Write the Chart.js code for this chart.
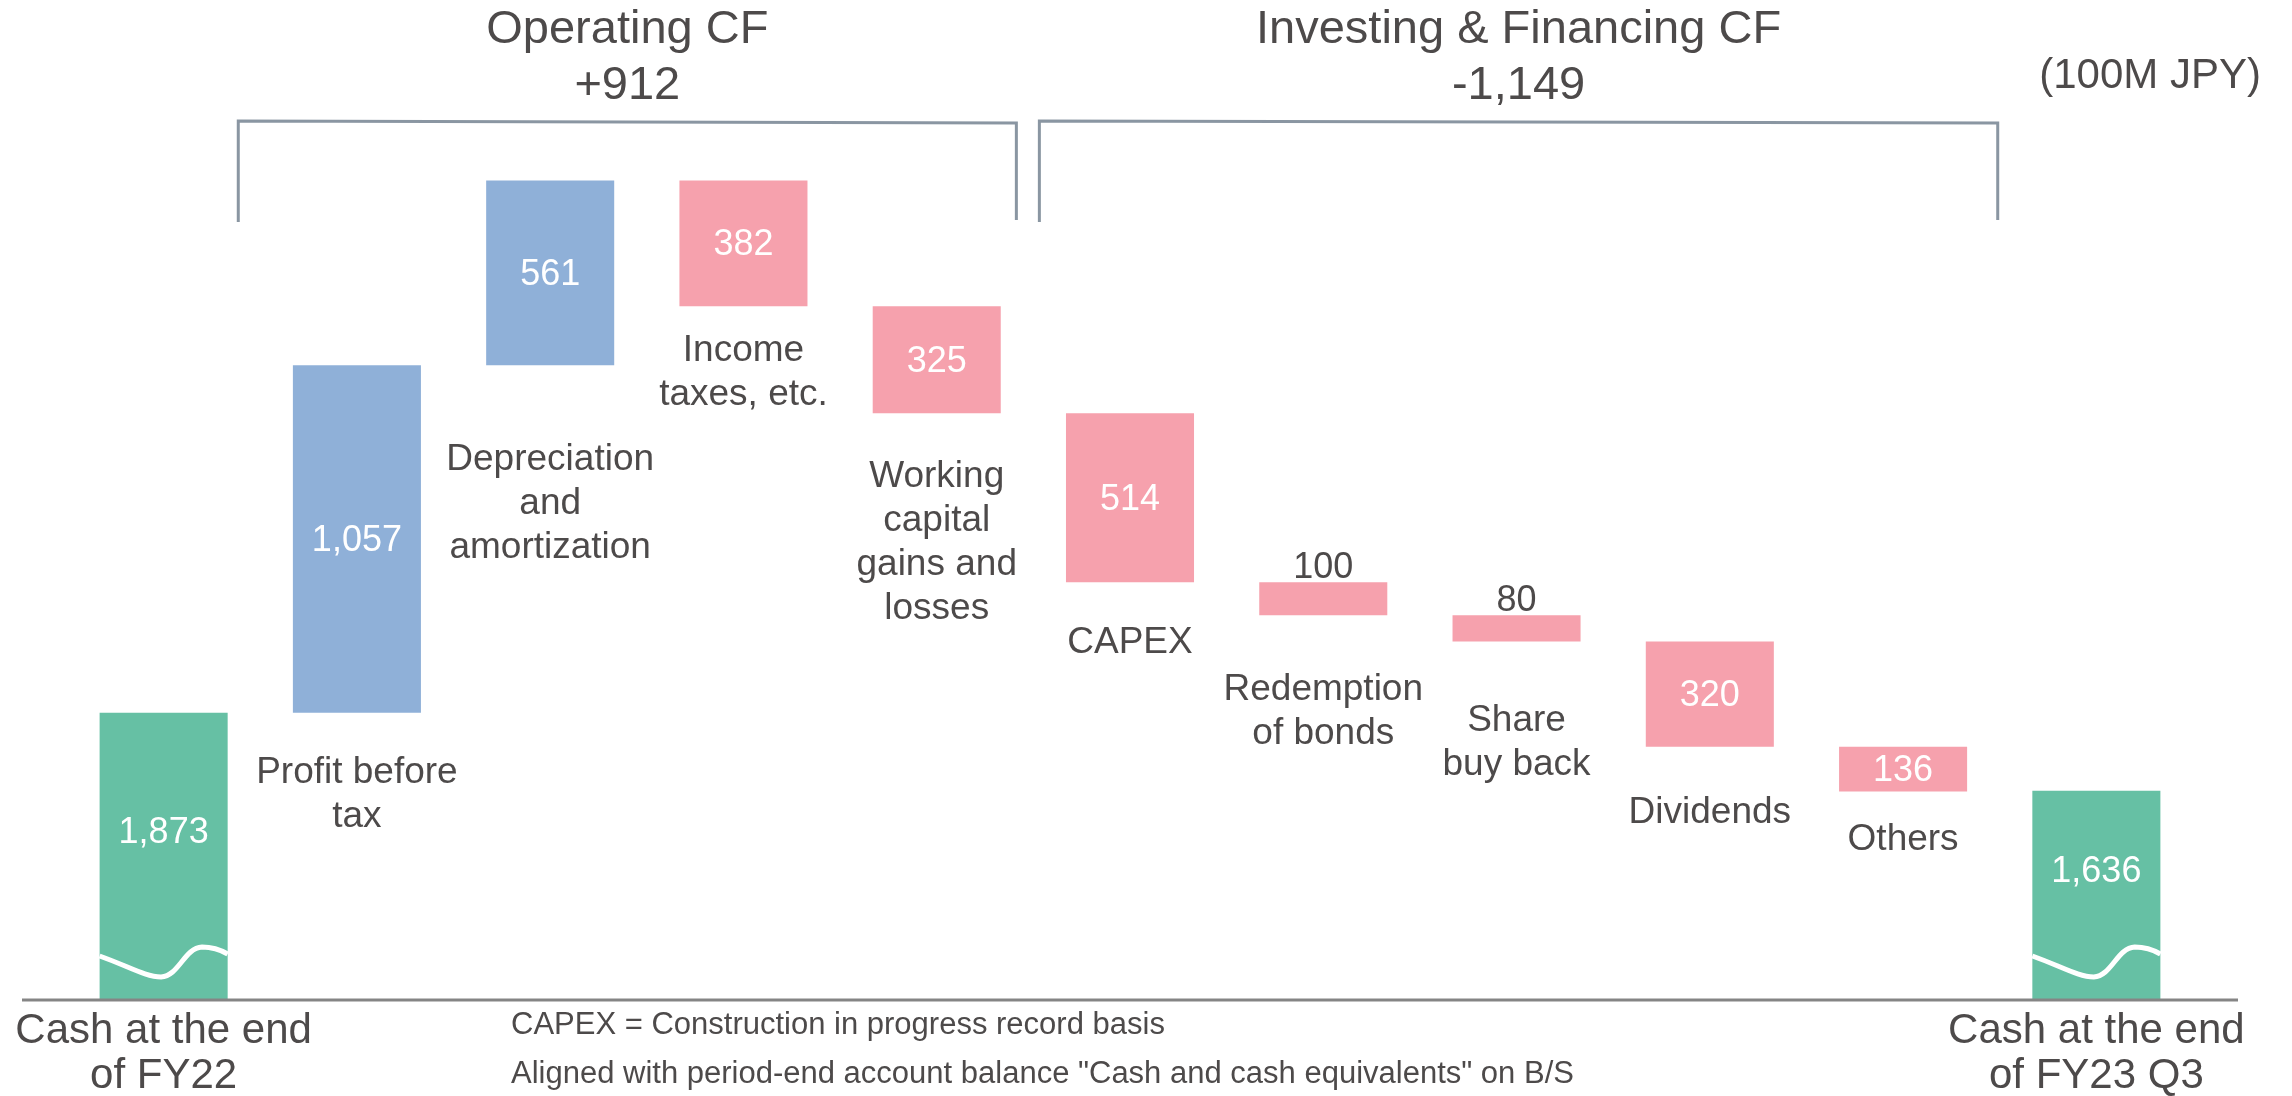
<!DOCTYPE html>
<html>
<head>
<meta charset="utf-8">
<script src="https://cdn.jsdelivr.net/npm/chart.js@4/dist/chart.umd.min.js"></script>
<style>
  html, body { margin: 0; padding: 0; background: #ffffff; }
  #wrap { width: 2292px; height: 1096px; position: relative; }
</style>
</head>
<body>
<div id="wrap"><canvas id="cf-chart" width="2292" height="1096"></canvas></div>
<script>
// 100M JPY
const categories = [
  ["Cash at the end", "of FY22"],
  ["Profit before", "tax"],
  ["Depreciation", "and", "amortization"],
  ["Income", "taxes, etc."],
  ["Working", "capital", "gains and", "losses"],
  ["CAPEX"],
  ["Redemption", "of bonds"],
  ["Share", "buy back"],
  ["Dividends"],
  ["Others"],
  ["Cash at the end", "of FY23 Q3"],
];
const openingCash = 1873;
const closingCash = 1636;
const changes = [1057, 561, -382, -325, -514, -100, -80, -320, -136];

const groupTitles = ["Operating CF", "Investing & Financing CF"];
const groupTotals = [912, -1149];
const groupRanges = [[1, 4], [5, 9]]; // category index from / to
const unitLabel = "(100M JPY)";
const footnotes = [
  "CAPEX = Construction in progress record basis",
  'Aligned with period-end account balance "Cash and cash equivalents" on B/S',
];

// layout / style
const GREEN = "#66c0a4";
const BLUE = "#8fb0d8";
const PINK = "#f6a1ad";
const TEXT = "#4d4a4a";
const BRACKET = "#8a96a2";
const FONT = '"Liberation Sans", Arial, sans-serif';
const labelGaps = [0, 70, 105, 55, 74, 71, 85, 90, 76, 59, 0];

const fmt = (v) => Math.abs(v).toLocaleString("en-US");

// build floating bars
const barData = [openingCash];
const barColors = [GREEN];
const barValues = [openingCash];
let running = openingCash;
changes.forEach((c) => {
  const next = running + c;
  barData.push([Math.min(running, next), Math.max(running, next)]);
  barColors.push(c >= 0 ? BLUE : PINK);
  barValues.push(c);
  running = next;
});
barData.push(closingCash);
barColors.push(GREEN);
barValues.push(closingCash);

const isTotal = (i) => i === 0 || i === categories.length - 1;

// wave break + labels + brackets
const decorPlugin = {
  id: "decor",
  afterDatasetsDraw(chart) {
    const { ctx, chartArea } = chart;
    const x = chart.scales.x;
    const meta = chart.getDatasetMeta(0);
    const base = chartArea.bottom;
    const step = x.getPixelForValue(1) - x.getPixelForValue(0);

    ctx.save();

    // axis line
    ctx.strokeStyle = "#858585";
    ctx.lineWidth = 3;
    ctx.beginPath();
    ctx.moveTo(chartArea.left - 45, base);
    ctx.lineTo(chartArea.right + 45, base);
    ctx.stroke();

    meta.data.forEach((bar, i) => {
      const w = bar.width;
      const L = bar.x - w / 2;
      const top = Math.min(bar.y, bar.base);
      const bottom = Math.max(bar.y, bar.base);

      if (isTotal(i)) {
        // break mark
        ctx.strokeStyle = "#ffffff";
        ctx.lineWidth = 5;
        ctx.beginPath();
        ctx.moveTo(L, base - 44);
        ctx.bezierCurveTo(L + w * 0.22, base - 34, L + w * 0.36, base - 23, L + w * 0.48, base - 23);
        ctx.bezierCurveTo(L + w * 0.62, base - 24, L + w * 0.66, base - 52, L + w * 0.8, base - 53);
        ctx.bezierCurveTo(L + w * 0.9, base - 53, L + w * 0.96, base - 49, L + w, base - 46);
        ctx.stroke();

        ctx.fillStyle = "#ffffff";
        ctx.font = "36px " + FONT;
        ctx.textAlign = "center";
        ctx.textBaseline = "middle";
        ctx.fillText(fmt(barValues[i]), bar.x, (top + base - 46) / 2);

        ctx.fillStyle = TEXT;
        ctx.font = "42px " + FONT;
        ctx.textBaseline = "alphabetic";
        categories[i].forEach((line, k) => {
          ctx.fillText(line, bar.x, base + 43 + k * 45);
        });
        return;
      }

      ctx.textAlign = "center";
      ctx.font = "36px " + FONT;
      if (bottom - top > 40) {
        ctx.fillStyle = "#ffffff";
        ctx.textBaseline = "middle";
        ctx.fillText(fmt(barValues[i]), bar.x, (top + bottom) / 2 + 2);
      } else {
        ctx.fillStyle = TEXT;
        ctx.textBaseline = "alphabetic";
        ctx.fillText(fmt(barValues[i]), bar.x, top - 4);
      }

      ctx.fillStyle = TEXT;
      ctx.font = "37px " + FONT;
      ctx.textBaseline = "alphabetic";
      categories[i].forEach((line, k) => {
        ctx.fillText(line, bar.x, bottom + labelGaps[i] + k * 44);
      });
    });

    // brackets and group titles
    const insets = [[-22, -17], [6, -2]];
    groupRanges.forEach(([a, b], g) => {
      const left = x.getPixelForValue(a) - step / 2 + insets[g][0];
      const right = x.getPixelForValue(b) + step / 2 + insets[g][1];
      ctx.strokeStyle = BRACKET;
      ctx.lineWidth = 3;
      ctx.beginPath();
      ctx.moveTo(left, 222);
      ctx.lineTo(left, 121);
      ctx.lineTo(right, 123);
      ctx.lineTo(right, 220);
      ctx.stroke();

      const cx = (left + right) / 2;
      ctx.fillStyle = TEXT;
      ctx.font = "47px " + FONT;
      ctx.textAlign = "center";
      ctx.textBaseline = "alphabetic";
      ctx.fillText(groupTitles[g], cx, 43);
      const t = groupTotals[g];
      ctx.fillText((t > 0 ? "+" : "-") + fmt(t), cx, 99);
    });

    // unit
    ctx.font = "42px " + FONT;
    ctx.textAlign = "right";
    ctx.fillText(unitLabel, chartArea.right + 68, 88);

    // footnotes
    ctx.font = "31px " + FONT;
    ctx.textAlign = "left";
    footnotes.forEach((f, k) => {
      ctx.fillText(f, 511, base + 34 + k * 49);
    });

    ctx.restore();
  },
};

new Chart(document.getElementById("cf-chart"), {
  type: "bar",
  data: {
    labels: categories,
    datasets: [
      {
        data: barData,
        backgroundColor: barColors,
        borderWidth: 0,
        barPercentage: 0.6625,
        categoryPercentage: 1,
      },
    ],
  },
  options: {
    responsive: false,
    animation: false,
    layout: { padding: { left: 67, right: 99, top: 0, bottom: 96 } },
    plugins: {
      legend: { display: false },
      tooltip: { enabled: false },
    },
    scales: {
      x: { display: false },
      y: { display: false, min: 1000, max: 4040 },
    },
  },
  plugins: [decorPlugin],
});
</script>
</body>
</html>
